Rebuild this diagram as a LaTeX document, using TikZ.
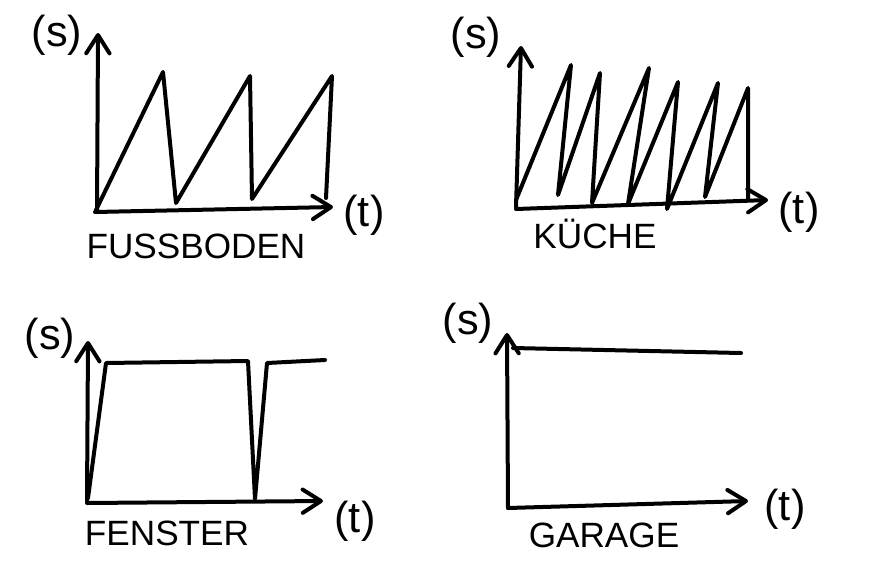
\documentclass[tikz,border=0pt]{standalone}
\usepackage{fontspec}
\setmainfont{Liberation Sans}
\usetikzlibrary{arrows.meta}
\tikzset{
  pen/.style={line width=1.2mm, line cap=round, line join=round},
  axis/.style={pen, -{Straight Barb[length=5.5mm,width=7mm,line cap=round,line join=round]}},
  room/.style={font=\fontsize{30}{30}\selectfont},
  unit/.style={font=\fontsize{37}{37}\selectfont}
}
\begin{document}
\begin{tikzpicture}[x=0.3mm,y=-0.3mm]
    \useasboundingbox (0,0) rectangle (873,582);
    % Fussboden
    \draw[axis] (97,212) -- (98,33);
    \draw[axis] (95,212) -- (333,207);
    \draw[pen] (96,210) -- (163,72) -- (176,203) -- (250,76)
        -- (252,199) -- (332,76) -- (326,198);
    \node[unit] (s1) at (57,35) {(s)};
    \node[unit] (t1) at (364,215) {(t)};
    \node[room] (fuss) at (196,246) {FUSSBODEN};
    % Kueche
    \draw[axis] (516,207) -- (521,46);
    \draw[axis] (516,209) -- (768,200);
    \draw[pen] (516,200) -- (571,65) -- (558,195) -- (600,73)
        -- (592,203) -- (649,68) -- (628,204) -- (678,82)
        -- (667,209) -- (718,83) -- (705,197) -- (748,88) -- (748,200);
    \node[unit] (s2) at (476,37) {(s)};
    \node[unit] (t2) at (799,212) {(t)};
    \node[room] (kueche) at (595,234) {KÜCHE};
    % Fenster
    \draw[axis] (87,501) -- (88,341);
    \draw[axis] (87,503) -- (323,501);
    \draw[pen] (88,498) -- (106,363) -- (248,361) -- (255,499)
        -- (267,363) -- (325,360);
    \node[unit] (s3) at (50,338) {(s)};
    \node[unit] (t3) at (355,521) {(t)};
    \node[room] (fenster) at (167,533) {FENSTER};
    % Garage
    \draw[axis] (508,508) -- (507,333);
    \draw[axis] (508,508) -- (748,501);
    \draw[pen] (513,348) -- (741,353);
    \node[unit] (s4) at (468,323) {(s)};
    \node[unit] (t4) at (785,509) {(t)};
    \node[room] (garage) at (604,535) {GARAGE};
\end{tikzpicture}
\end{document}
